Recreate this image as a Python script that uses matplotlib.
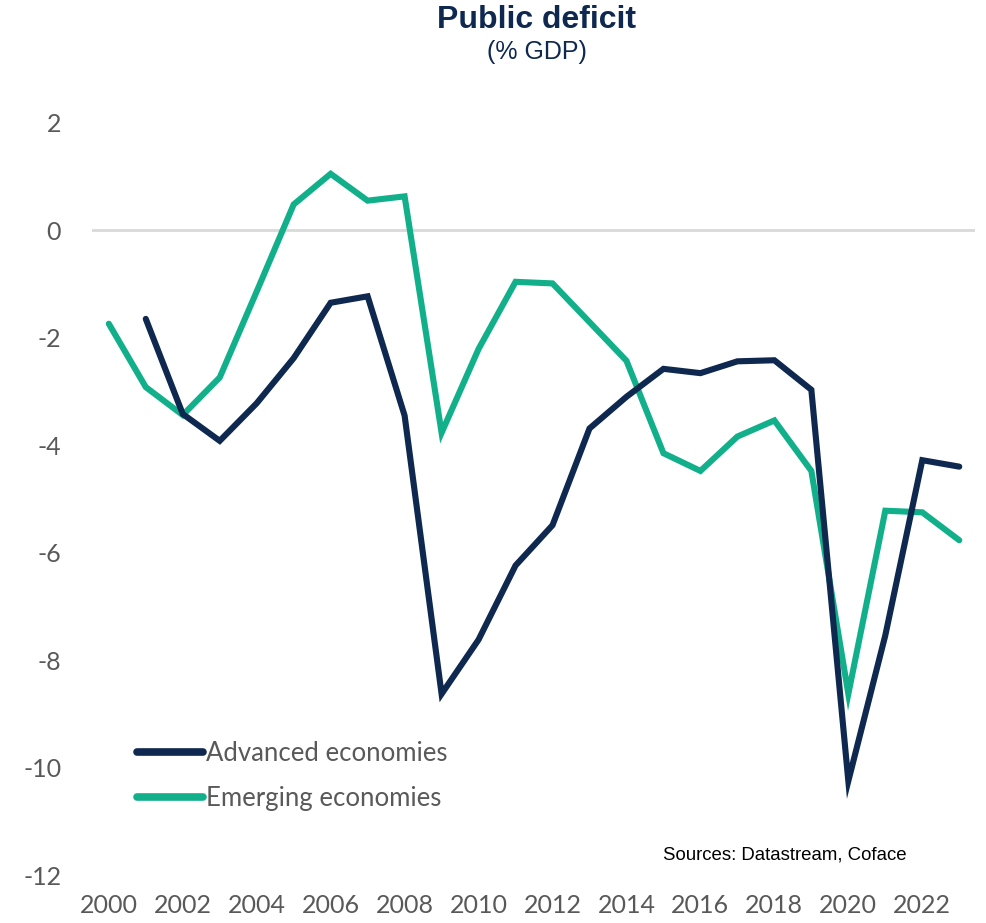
import matplotlib
matplotlib.use("Agg")
import matplotlib.pyplot as plt

# Public deficit, % of GDP
years_adv = list(range(2001, 2024))
advanced = [-1.65, -3.42, -3.92, -3.22, -2.38, -1.35, -1.23, -3.45, -8.63, -7.62,
            -6.24, -5.49, -3.69, -3.10, -2.58, -2.66, -2.44, -2.42, -2.97, -10.25,
            -7.54, -4.28, -4.40]

years_emg = list(range(2000, 2024))
emerging = [-1.74, -2.92, -3.44, -2.74, -1.14, 0.48, 1.05, 0.55, 0.63, -3.77,
            -2.21, -0.96, -0.99, -1.71, -2.43, -4.15, -4.48, -3.84, -3.54, -4.48,
            -8.63, -5.22, -5.25, -5.77]

xticks = list(range(2000, 2023, 2))
yticks = [2, 0, -2, -4, -6, -8, -10, -12]

NAVY = "#0e2850"
GREEN = "#12b08a"
GREY = "#595959"
body = ["Lato", "DejaVu Sans"]

plt.rcParams["axes.unicode_minus"] = False

fig = plt.figure(figsize=(9.87, 9.23), dpi=100)
ax = fig.add_axes([0.093, 0.052, 0.895, 0.815])

ax.axhline(0, color="#d9d9d9", lw=2, zorder=1)
ax.plot(years_adv, advanced, color=NAVY, lw=4.4, label="Advanced economies",
        solid_capstyle="round", solid_joinstyle="miter", zorder=3)
ax.plot(years_emg, emerging, color=GREEN, lw=4.4, label="Emerging economies",
        solid_capstyle="round", solid_joinstyle="miter", zorder=2)

ax.set_xlim(1999.54, 2023.43)
ax.set_ylim(-12, 2)
ax.set_xticks(xticks)
ax.set_yticks(yticks)
ax.tick_params(length=0)
ax.tick_params(axis="y", pad=22)
ax.tick_params(axis="x", pad=14)
for lab in ax.get_xticklabels() + ax.get_yticklabels():
    lab.set_family(body)
    lab.set_fontsize(18)
    lab.set_color(GREY)
for side in ax.spines.values():
    side.set_visible(False)

leg = ax.legend(loc="upper left", bbox_to_anchor=(0.1155, 0.222), bbox_transform=fig.transFigure,
                frameon=False, handlelength=2.57, handletextpad=0.1, labelspacing=0.78,
                prop={"family": body, "size": 18.5})
for t in leg.get_texts():
    t.set_color(GREY)
for h in leg.get_lines():
    h.set_linewidth(5.5)

fig.text(0.544, 0.978, "Public deficit", ha="center", va="center",
         fontsize=23, fontweight="bold", color=NAVY, family="Liberation Sans")
fig.text(0.544, 0.944, "(% GDP)", ha="center", va="center",
         fontsize=18, color=NAVY, family="Liberation Sans")
fig.text(0.672, 0.074, "Sources: Datastream, Coface", ha="left", va="center",
         fontsize=13.4, color="black", family="Liberation Sans")

fig.savefig("out.png", dpi=100, facecolor="white")
